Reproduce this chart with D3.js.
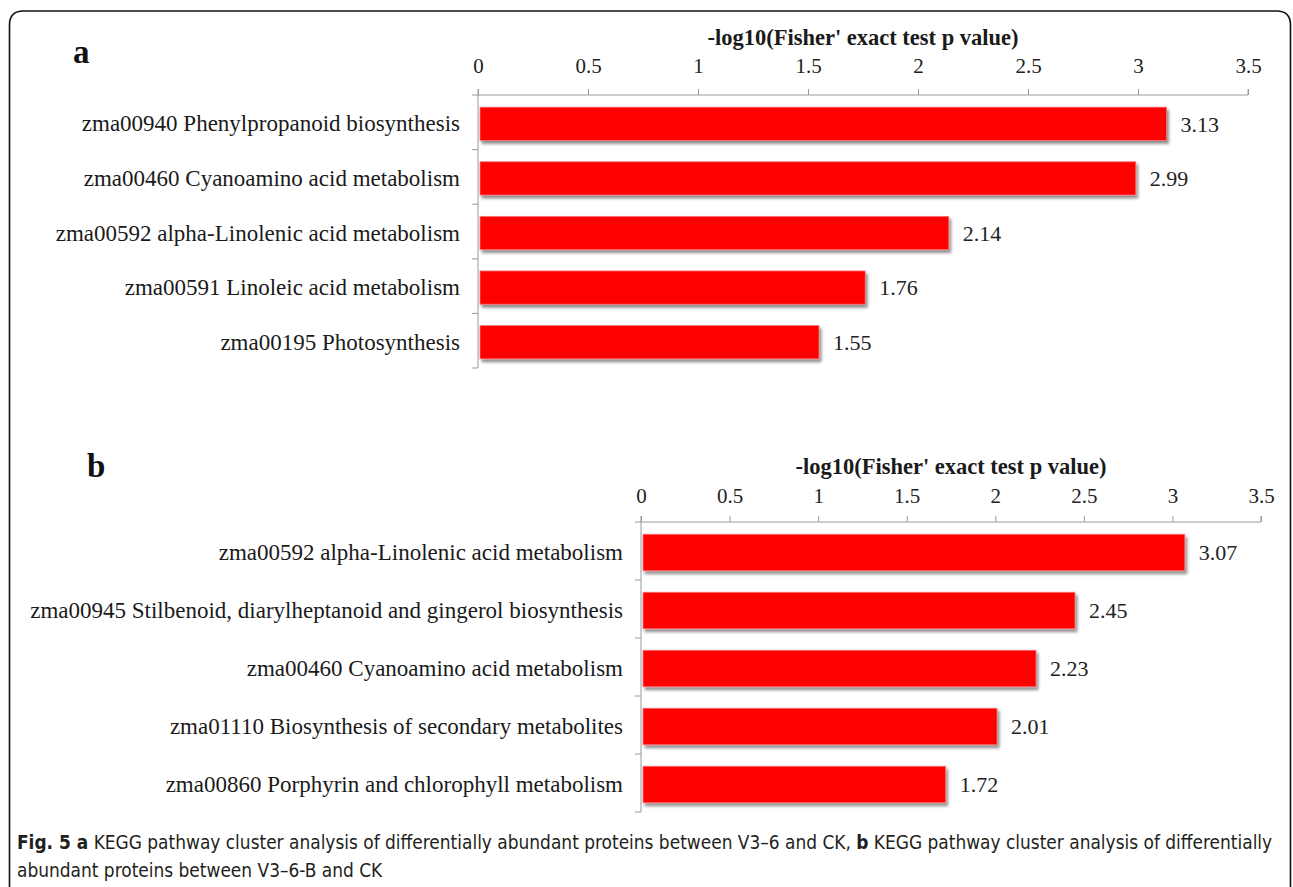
<!DOCTYPE html>
<html>
<head>
<meta charset="utf-8">
<script src="https://cdn.jsdelivr.net/npm/d3@7"></script>
<style>
  html, body { margin: 0; padding: 0; background: #fff; }
  svg { display: block; }
</style>
</head>
<body>
<svg id="fig" width="1293" height="887"></svg>
<script>
// KEGG pathway enrichment, two comparisons
const pathwaysA = [
  "zma00940 Phenylpropanoid biosynthesis",
  "zma00460 Cyanoamino acid metabolism",
  "zma00592 alpha-Linolenic acid metabolism",
  "zma00591 Linoleic acid metabolism",
  "zma00195 Photosynthesis"
];
const scoresA = [3.13, 2.99, 2.14, 1.76, 1.55];

const pathwaysB = [
  "zma00592 alpha-Linolenic acid metabolism",
  "zma00945 Stilbenoid, diarylheptanoid and gingerol biosynthesis",
  "zma00460 Cyanoamino acid metabolism",
  "zma01110 Biosynthesis of secondary metabolites",
  "zma00860 Porphyrin and chlorophyll metabolism"
];
const scoresB = [3.07, 2.45, 2.23, 2.01, 1.72];

const xTicks = [0, 0.5, 1, 1.5, 2, 2.5, 3, 3.5];
const axisTitle = "-log10(Fisher' exact test p value)";

const svg = d3.select("#fig");
const serif = "'Liberation Serif', 'Times New Roman', serif";

// soft drop shadow under bars
const defs = svg.append("defs");
const f = defs.append("filter").attr("id", "barShadow")
  .attr("x", "-5%").attr("y", "-30%").attr("width", "115%").attr("height", "180%");
f.append("feGaussianBlur").attr("in", "SourceAlpha").attr("stdDeviation", 1.6).attr("result", "b");
f.append("feOffset").attr("in", "b").attr("dx", 2).attr("dy", 3).attr("result", "o");
f.append("feComponentTransfer").attr("in", "o").attr("result", "s")
  .append("feFuncA").attr("type", "linear").attr("slope", 0.45);
const m = f.append("feMerge");
m.append("feMergeNode").attr("in", "s");
m.append("feMergeNode").attr("in", "SourceGraphic");

// outer frame (open at the bottom)
const fx0 = 9.5, fx1 = 1290.5, fy0 = 11, r = 14;
svg.append("path")
  .attr("d", `M${fx0},887 L${fx0},${fy0 + r} Q${fx0},${fy0} ${fx0 + r},${fy0} L${fx1 - r},${fy0} Q${fx1},${fy0} ${fx1},${fy0 + r} L${fx1},887`)
  .attr("fill", "none").attr("stroke", "#111").attr("stroke-width", 1.6);

function drawPanel(letter, letterPos, labels, values, cfg) {
  const g = svg.append("g");
  const x = d3.scaleLinear().domain([0, 3.5]).range([cfg.x0, cfg.x1]);
  const y = d3.scaleBand().domain(labels).range([cfg.yTop, cfg.yBottom]).padding(0);
  const barH = y.bandwidth() * cfg.barFrac;

  // panel letter
  svg.append("text").attr("x", letterPos[0]).attr("y", letterPos[1])
    .attr("font-family", serif).attr("font-weight", "bold").attr("font-size", 33)
    .attr("fill", "#111").text(letter);

  // axis title, centred over the value axis
  g.append("text")
    .attr("x", (cfg.x0 + cfg.x1) / 2).attr("y", cfg.titleY)
    .attr("text-anchor", "middle")
    .attr("font-family", serif).attr("font-weight", "bold").attr("font-size", 22.5)
    .attr("fill", "#1a1a1a").text(axisTitle);

  // top value axis
  const ax = g.append("g").attr("transform", `translate(0,${cfg.yTop})`)
    .call(d3.axisTop(x).tickValues(xTicks).tickSize(6).tickPadding(cfg.tickPad)
      .tickFormat(d => String(d)));
  ax.select(".domain").attr("stroke", "#9a9a9a").attr("d", `M${cfg.x0},-6V0H${cfg.x1}V-6`);
  ax.selectAll(".tick line").attr("stroke", "#9a9a9a");
  ax.selectAll(".tick text").attr("font-family", serif).attr("font-size", 21).attr("fill", "#222");

  // category axis with ticks at band edges
  const edges = labels.map(l => y(l)).concat([cfg.yBottom]);
  g.append("line").attr("x1", cfg.x0).attr("x2", cfg.x0)
    .attr("y1", cfg.yTop).attr("y2", cfg.yBottom).attr("stroke", "#9a9a9a");
  g.selectAll("line.ytick").data(edges).join("line").attr("class", "ytick")
    .attr("x1", cfg.x0 - 6).attr("x2", cfg.x0).attr("y1", d => d).attr("y2", d => d)
    .attr("stroke", "#9a9a9a");

  g.selectAll("text.cat").data(labels).join("text").attr("class", "cat")
    .attr("x", cfg.x0 - 18).attr("y", d => y(d) + y.bandwidth() / 2 + 1)
    .attr("dy", "0.35em").attr("text-anchor", "end")
    .attr("font-family", serif).attr("font-size", 23).attr("fill", "#1a1a1a")
    .text(d => d);

  // bars
  g.selectAll("rect.bar").data(values).join("rect").attr("class", "bar")
    .attr("x", x(0) + 2)
    .attr("y", (d, i) => y(labels[i]) + (y.bandwidth() - barH) / 2 + 1.5)
    .attr("width", d => x(d) - x(0) - 2)
    .attr("height", barH)
    .attr("fill", "#ff0000").attr("stroke", "#f27a7a").attr("stroke-width", 0.8)
    .attr("filter", "url(#barShadow)");

  // value labels
  g.selectAll("text.val").data(values).join("text").attr("class", "val")
    .attr("x", d => x(d) + 14)
    .attr("y", (d, i) => y(labels[i]) + y.bandwidth() / 2 + 1.5)
    .attr("dy", "0.35em")
    .attr("font-family", serif).attr("font-size", 22).attr("fill", "#222")
    .text(d => d.toFixed(2));
}

drawPanel("a", [73, 63], pathwaysA, scoresA,
  { x0: 478, x1: 1248, yTop: 95, yBottom: 368, barFrac: 0.61, titleY: 45, tickPad: 16 });
drawPanel("b", [87, 477], pathwaysB, scoresB,
  { x0: 641, x1: 1261, yTop: 522, yBottom: 812, barFrac: 0.63, titleY: 474, tickPad: 13 });

// figure caption, sized so the first line spans the frame
const capFont = "'Liberation Sans Narrow', 'DejaVu Sans Condensed', 'Roboto', sans-serif";
const cap1 = svg.append("text").attr("x", 17).attr("y", 849)
  .attr("font-family", capFont).attr("font-size", 19).attr("fill", "#231f20");
cap1.append("tspan").attr("font-weight", "bold").text("Fig. 5 a");
cap1.append("tspan").text(" KEGG pathway cluster analysis of differentially abundant proteins between V3–6 and CK, ");
cap1.append("tspan").attr("font-weight", "bold").text("b");
cap1.append("tspan").text(" KEGG pathway cluster analysis of differentially");
const cap2 = svg.append("text").attr("x", 17).attr("y", 877)
  .attr("font-family", capFont).attr("font-size", 19).attr("fill", "#231f20")
  .text("abundant proteins between V3–6-B and CK");
const capSize = 19 * 1256 / cap1.node().getComputedTextLength();
cap1.attr("font-size", capSize);
cap2.attr("font-size", capSize);
</script>
</body>
</html>
